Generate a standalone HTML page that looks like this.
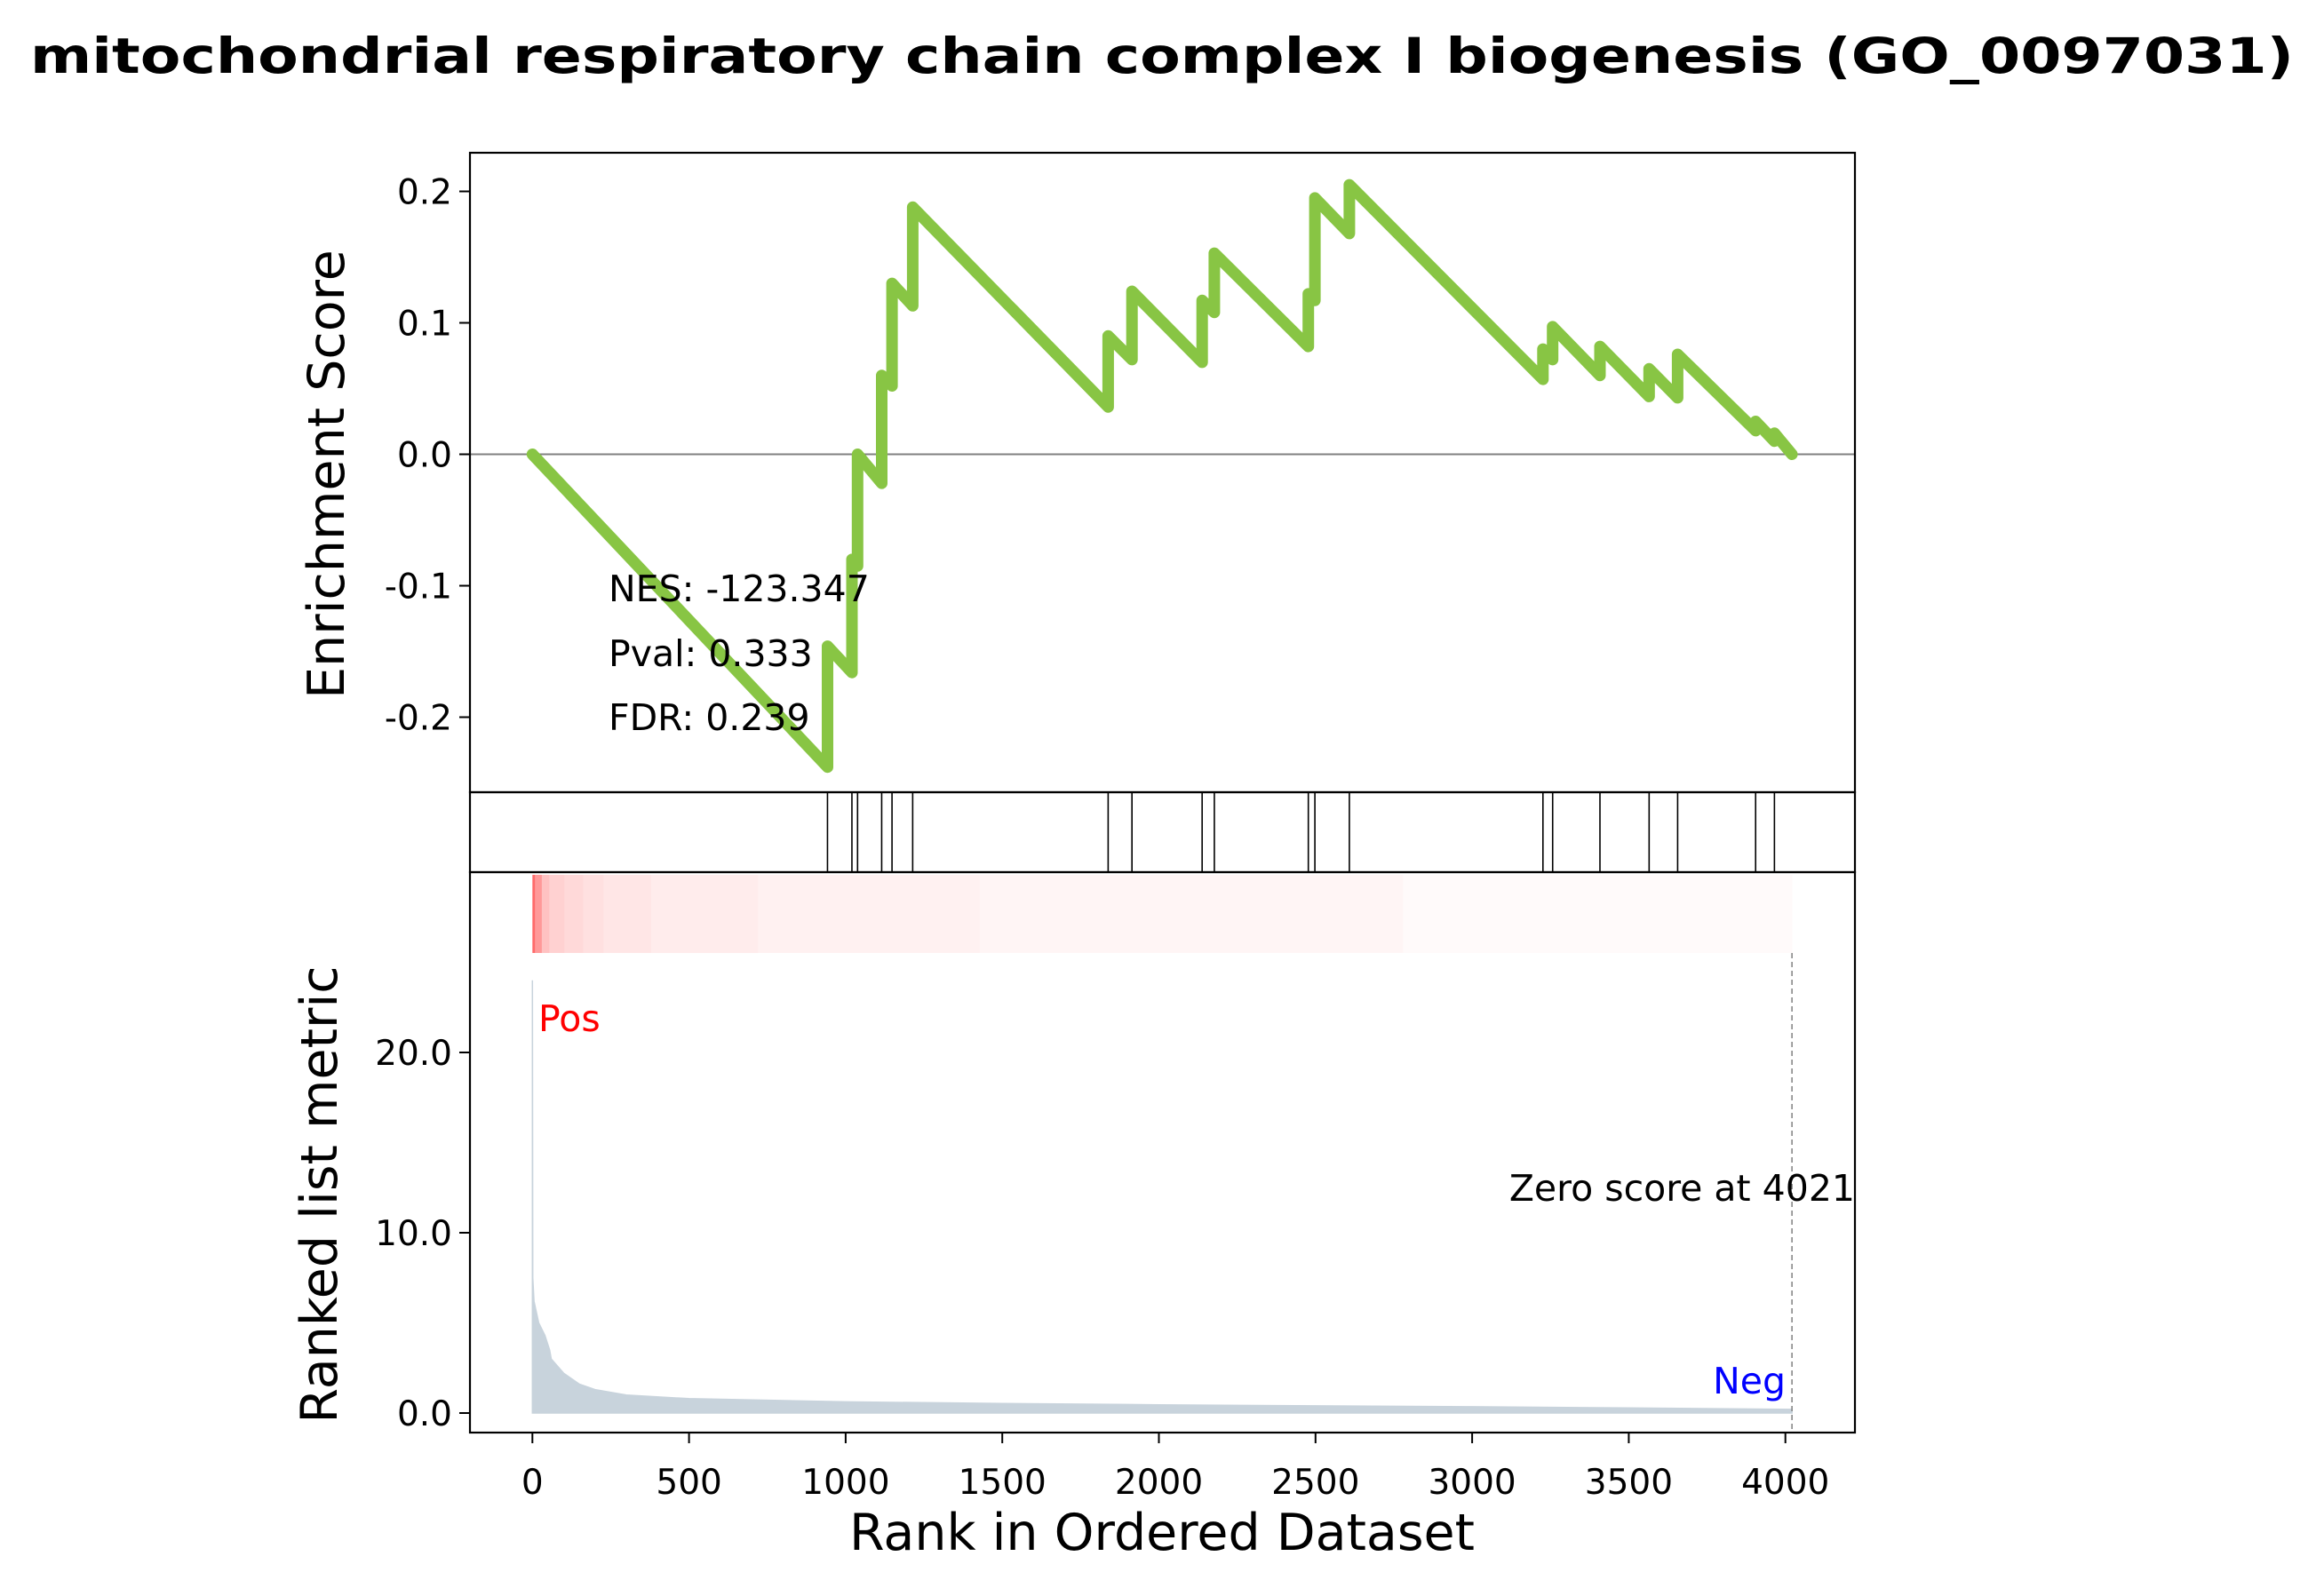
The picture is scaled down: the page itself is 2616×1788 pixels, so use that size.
<!DOCTYPE html>
<html><head><meta charset="utf-8"><style>
html,body{margin:0;padding:0;background:#fff}
svg{display:block}
text{font-family:"DejaVu Sans","Liberation Sans",sans-serif}
</style></head><body>
<svg id="fig" width="2616" height="1788" viewBox="0 0 2616 1788" xmlns="http://www.w3.org/2000/svg">
<text x="1308" y="82" font-size="55" font-weight="bold" text-anchor="middle" textLength="2548" lengthAdjust="spacingAndGlyphs">mitochondrial respiratory chain complex I biogenesis (GO_0097031)</text>
<g id="es-panel"></g>
<g id="hit-panel"></g>
<g id="rank-panel"></g>
<text transform="translate(387,534) rotate(-90)" font-size="57" text-anchor="middle">Enrichment Score</text>
<text transform="translate(379,1345) rotate(-90)" font-size="57" text-anchor="middle">Ranked list metric</text>
<text x="1308" y="1745" font-size="57" text-anchor="middle">Rank in Ordered Dataset</text>
</svg>
<script>
const hitRanks=[942,1020,1038,1115,1148,1214,1838,1914,2138,2177,2477,2498,2608,3226,3257,3408,3565,3656,3905,3965];
const esBefore=[-0.238,-0.166,-0.085,-0.022,0.052,0.113,0.036,0.072,0.07,0.108,0.082,0.117,0.168,0.057,0.072,0.06,0.044,0.043,0.018,0.01];
const esAfter=[-0.146,-0.08,0.0,0.06,0.13,0.188,0.09,0.124,0.117,0.153,0.122,0.195,0.205,0.08,0.097,0.082,0.065,0.076,0.025,0.016];
const esEnd=[4021,0];
const esTicks=[0.2,0.1,0.0,-0.1,-0.2];
const esTickLabels=["0.2","0.1","0.0","-0.1","-0.2"];
const metricRanks=[0,1,5,20,40,55,60,100,150,200,300,500,1000,1500,2000,2500,3000,3500,4021];
const metricValues=[24,7.5,6.2,5,4.3,3.5,3,2.2,1.6,1.3,1.0,0.8,0.62,0.53,0.46,0.4,0.35,0.28,0.2];
const heatEdges=[0,8,30,54,102,162,227,379,720,1428,2780,4021];
const heatLevels=[0.58,0.4,0.24,0.18,0.15,0.12,0.1,0.075,0.055,0.04,0.02];
const xTicks=[0,500,1000,1500,2000,2500,3000,3500,4000];
const metricTicks=[0,10,20];
const metricTickLabels=["0.0","10.0","20.0"];
const zeroRank=4021;

const NS="http://www.w3.org/2000/svg";
const L=529,R=2088;
const X=r=>599.3+r*(R-599.3)/4222;
const YE=v=>511.5-v*1480;
const YM=v=>1591-v*20.3;
function mk(tag,attrs,parent,txt){const e=document.createElementNS(NS,tag);for(const k in attrs)e.setAttribute(k,attrs[k]);if(txt!==undefined)e.textContent=txt;parent.appendChild(e);return e;}
const es=document.getElementById('es-panel'),hp=document.getElementById('hit-panel'),rp=document.getElementById('rank-panel');

let zl=mk('line',{x1:L,x2:R,y1:YE(0),y2:YE(0),stroke:'#808080','stroke-width':2},es);


let pts=[[0,0]];
hitRanks.forEach((r,i)=>{pts.push([r,esBefore[i]]);pts.push([r,esAfter[i]]);});
pts.push(esEnd);
let es_line=mk('polyline',{points:pts.map(p=>X(p[0]).toFixed(1)+','+YE(p[1]).toFixed(1)).join(' '),fill:'none',stroke:'#88c544','stroke-width':13,'stroke-linejoin':'round','stroke-linecap':'round'},es);


esTicks.forEach((v,i)=>{
  mk('line',{x1:L-12,x2:L,y1:YE(v),y2:YE(v),stroke:'#000','stroke-width':2},es);
  let t=mk('text',{x:L-20,y:YE(v)+14,'font-size':39,'text-anchor':'end'},es,esTickLabels[i]);
  
  
});
let st=mk('g',{},es);


mk('text',{x:685,y:677,'font-size':41},st,'NES: -123.347');
mk('text',{x:685,y:750,'font-size':41},st,'Pval: 0.333');
mk('text',{x:685,y:822,'font-size':41},st,'FDR: 0.239');
mk('rect',{x:L,y:172,width:R-L,height:720,fill:'none',stroke:'#000','stroke-width':2.2},es);

hitRanks.forEach(r=>{
  let h=mk('line',{x1:X(r),x2:X(r),y1:892,y2:982,stroke:'#000','stroke-width':1.6},hp);
  
  
});
mk('rect',{x:L,y:892,width:R-L,height:90,fill:'none',stroke:'#000','stroke-width':2.2},hp);

for(let i=0;i<heatLevels.length;i++){
  const a=heatLevels[i];
  const g=Math.round(255-255*a);
  let b=mk('rect',{x:X(heatEdges[i]),y:985,width:X(heatEdges[i+1])-X(heatEdges[i])+0.5,height:88,fill:`rgb(255,${g},${g})`},rp);
  
  
}
let ap=[X(metricRanks[0])+','+YM(0)];
metricRanks.forEach((r,i)=>ap.push(X(r).toFixed(1)+','+YM(metricValues[i]).toFixed(1)));
ap.push(X(metricRanks[metricRanks.length-1])+','+YM(0));
let area=mk('polygon',{points:ap.join(' '),fill:'#c8d3dc',stroke:'#c8d3dc','stroke-width':1.5},rp);


let zd=mk('line',{x1:X(zeroRank),x2:X(zeroRank),y1:1073,y2:1613,stroke:'#808080','stroke-width':1.5,'stroke-dasharray':'6,4'},rp);


let zt=mk('text',{x:2088,y:1352,'font-size':41,'text-anchor':'end'},rp,'Zero score at '+zeroRank);


let pt=mk('text',{x:606,y:1161,'font-size':41,fill:'#ff0000'},rp,'Pos');


let nt=mk('text',{x:2010,y:1569,'font-size':41,fill:'#0000ff','text-anchor':'end'},rp,'Neg');


metricTicks.forEach((v,i)=>{
  mk('line',{x1:L-12,x2:L,y1:YM(v),y2:YM(v),stroke:'#000','stroke-width':2},rp);
  let t=mk('text',{x:L-20,y:YM(v)+14,'font-size':39,'text-anchor':'end'},rp,metricTickLabels[i]);
  
  
});
xTicks.forEach(v=>{
  mk('line',{x1:X(v),x2:X(v),y1:1613,y2:1625,stroke:'#000','stroke-width':2},rp);
  let t=mk('text',{x:X(v),y:1682,'font-size':39,'text-anchor':'middle'},rp,String(v));
  
  
});
mk('rect',{x:L,y:982,width:R-L,height:631,fill:'none',stroke:'#000','stroke-width':2.2},rp);
</script>
</body></html>
